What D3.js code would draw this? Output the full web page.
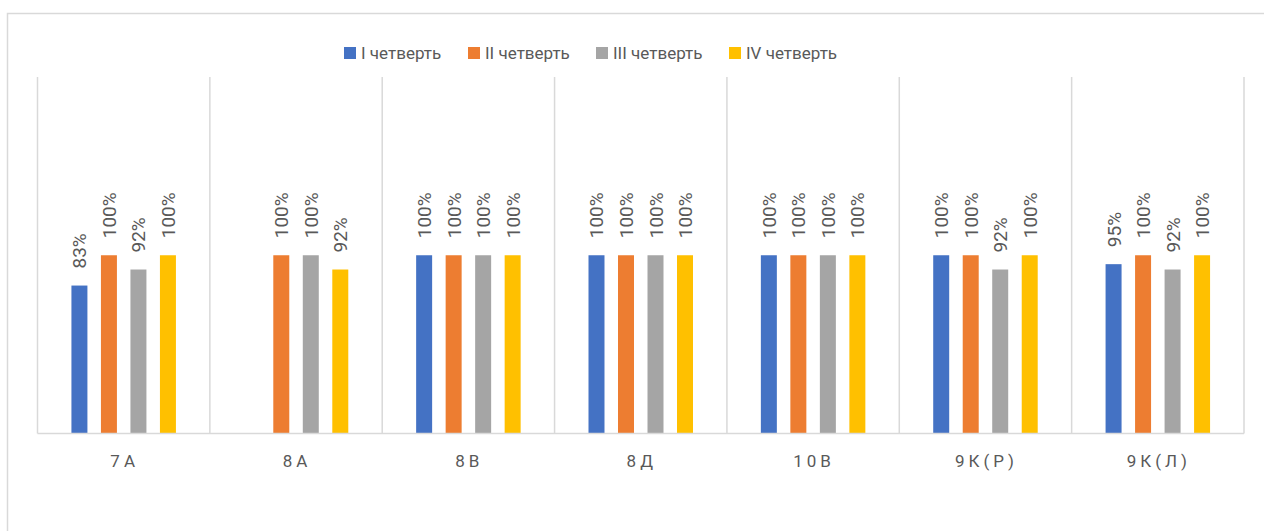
<!DOCTYPE html>
<html>
<head>
<meta charset="utf-8">
<script src="https://cdn.jsdelivr.net/npm/d3@7"></script>
<style>
  body { margin: 0; background: #fff; }
  text { font-family: Roboto, "Noto Sans", sans-serif; }
</style>
</head>
<body>
<script>
// data
var classes = ["7А", "8А", "8В", "8Д", "10В", "9К(Р)", "9К(Л)"];
var seriesNames = ["I четверть", "II четверть", "III четверть", "IV четверть"];
var q1 = [83, null, 100, 100, 100, 100, 95];
var q2 = [100, 100, 100, 100, 100, 100, 100];
var q3 = [92, 100, 100, 100, 100, 92, 92];
var q4 = [100, 92, 100, 100, 100, 100, 100];
var colors = ["#4472C4", "#ED7D31", "#A5A5A5", "#FFC000"];
var legendX = [344, 468, 596, 729];

var series = [q1, q2, q3, q4];

var width = 1264,
    height = 531;

var svg = d3.select("body").append("svg")
    .attr("width", width)
    .attr("height", height);

// chart frame (only top and left edges are in view)
svg.append("rect")
    .attr("x", 7.5).attr("y", 13.5)
    .attr("width", 1300).attr("height", 600)
    .attr("fill", "none")
    .attr("stroke", "#d9d9d9")
    .attr("stroke-width", 1.5);

var x = d3.scaleBand()
    .domain(classes)
    .range([37.5, 1244]);

var xs = d3.scaleBand()
    .domain(d3.range(4))
    .range([0, x.bandwidth()])
    .paddingInner(0.458)
    .paddingOuter(1.15);

var y = d3.scaleLinear()
    .domain([0, 200])
    .range([433.5, 77]);

// category separators
svg.append("g")
    .selectAll("line")
    .data(d3.range(classes.length + 1))
    .enter()
    .append("line")
    .attr("x1", function(i) { return 37.5 + i * x.step(); })
    .attr("x2", function(i) { return 37.5 + i * x.step(); })
    .attr("y1", y(200))
    .attr("y2", y(0))
    .attr("stroke", "#d9d9d9")
    .attr("stroke-width", 1.5);

var g = svg.append("g");

series.forEach(function(vals, s) {
  var pts = vals.map(function(v, i) { return {c: classes[i], v: v}; })
    .filter(function(d) { return d.v != null; });

  g.selectAll("rect.s" + s)
    .data(pts)
    .enter()
    .append("rect")
    .attr("class", "s" + s)
    .attr("x", function(d) { return x(d.c) + xs(s); })
    .attr("y", function(d) { return y(d.v); })
    .attr("width", xs.bandwidth())
    .attr("height", function(d) { return y(0) - y(d.v); })
    .attr("fill", colors[s]);

  g.selectAll("text.s" + s)
    .data(pts)
    .enter()
    .append("text")
    .attr("class", "s" + s)
    .attr("transform", function(d) {
      var cx = x(d.c) + xs(s) + xs.bandwidth() / 2 + 7;
      return "translate(" + cx + "," + (y(d.v) - 17) + ")rotate(-90)";
    })
    .attr("font-size", 19)
    .attr("fill", "#595959")
    .text(function(d) { return d.v + "%"; });
});

// baseline
svg.append("line")
    .attr("x1", 37.5).attr("x2", 1244)
    .attr("y1", y(0)).attr("y2", y(0))
    .attr("stroke", "#d9d9d9")
    .attr("stroke-width", 1.5);

// category labels
svg.append("g")
    .selectAll("text")
    .data(classes)
    .enter()
    .append("text")
    .attr("x", function(d) { return x(d) + x.bandwidth() / 2 + 1; })
    .attr("y", 467)
    .attr("text-anchor", "middle")
    .attr("font-size", 17)
    .attr("letter-spacing", "4px")
    .attr("fill", "#595959")
    .text(function(d) { return d; });

// legend
var leg = svg.append("g");
seriesNames.forEach(function(name, i) {
  leg.append("rect")
    .attr("x", legendX[i]).attr("y", 47)
    .attr("width", 12).attr("height", 12)
    .attr("fill", colors[i]);
  leg.append("text")
    .attr("x", legendX[i] + 17)
    .attr("y", 59)
    .attr("font-size", 17)
    .attr("fill", "#595959")
    .text(name);
});
</script>
</body>
</html>
